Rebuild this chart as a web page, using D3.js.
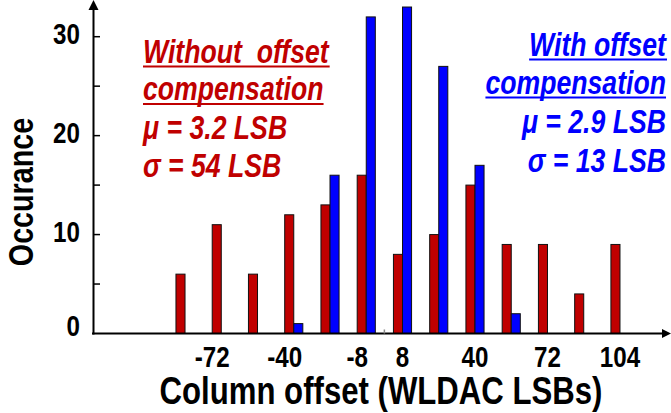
<!DOCTYPE html>
<html>
<head>
<meta charset="utf-8">
<script src="https://cdn.jsdelivr.net/npm/d3@7"></script>
<style>
  html, body { margin: 0; padding: 0; background: #fff; }
  svg { display: block; }
  text { font-family: "Liberation Sans", Arial, sans-serif; font-weight: bold; }
</style>
</head>
<body>
<svg id="chart" width="671" height="413"></svg>
<script>
// ---- data ----
const bins = [-88, -72, -56, -40, -24, -8, 8, 24, 40, 56, 72, 88, 104];
const withoutComp = [6, 11, 6, 12, 13, 16, 8, 10, 15, 9, 9, 4, 9];
const withComp = [0, 0, 0, 1, 16, 32, 33, 27, 17, 2, 0, 0, 0];
const seriesNames = ["without", "with"];
const xTickLabels = [-72, -40, -8, 8, 40, 72, 104];
const yTickLabels = [0, 10, 20, 30];
const yMinorTicks = [5, 10, 15, 20, 25, 30];
const xTitle = "Column offset (WLDAC LSBs)";
const yTitle = "Occurance";
const redText = ["Without  offset", "compensation", "μ = 3.2 LSB", "σ = 54 LSB"];
const blueText = ["With offset", "compensation", "μ = 2.9 LSB", "σ = 13 LSB"];

const RED = "#C00000", BLUE = "#0000FF";
const NARROW = 0.82;
const svg = d3.select("#chart");

const x = d3.scaleBand().domain(bins).range([166.9, 638.1]).padding(0);
const x1 = d3.scaleBand().domain(seriesNames).range([0, x.bandwidth()]).paddingInner(0).paddingOuter(1);
const y = d3.scaleLinear().domain([0, 30]).range([333.5, 36.7]);

const rows = bins.map((b, i) => ({ bin: b, without: withoutComp[i], with: withComp[i] }));

// narrow text helper (condensed bold look)
function ntext(parent, tx, ty, str, size, anchor, extra) {
  const gg = parent.append("g").attr("transform", `translate(${tx},${ty})${extra || ""} scale(${NARROW},1)`);
  const t = gg.append("text").attr("x", 0).attr("y", 0).attr("text-anchor", anchor)
    .attr("font-size", size).style("white-space", "pre").text(str);
  return { g: gg, t: t };
}

// bars
const g = svg.append("g");
rows.forEach(r => {
  seriesNames.forEach(s => {
    if (r[s] <= 0) return;
    g.append("rect")
      .attr("x", x(r.bin) + x1(s))
      .attr("y", y(r[s]))
      .attr("width", x1.bandwidth())
      .attr("height", y(0) - y(r[s]))
      .attr("fill", s === "without" ? RED : BLUE)
      .attr("stroke", "#111")
      .attr("stroke-width", 1);
  });
});

// y axis line and minor ticks
svg.append("line").attr("x1", 93.5).attr("x2", 93.5).attr("y1", y(0) + 1).attr("y2", 8)
  .attr("stroke", "#000").attr("stroke-width", 2);
svg.append("path").attr("d", "M93.5,0 L88.5,10 L98.5,10 Z").attr("fill", "#000");
svg.selectAll(".ytick").data(yMinorTicks).enter().append("line")
  .attr("x1", 93.5).attr("x2", 100).attr("y1", d => y(d)).attr("y2", d => y(d))
  .attr("stroke", "#000").attr("stroke-width", 1.5);

// x axis line
svg.append("line").attr("x1", 92).attr("x2", 664).attr("y1", y(0)).attr("y2", y(0))
  .attr("stroke", "#000").attr("stroke-width", 2);
svg.append("path").attr("d", `M671,${y(0)} L662,${y(0) - 4.5} L662,${y(0) + 4.5} Z`).attr("fill", "#000");
// small zero tick between bins -8 and 8
const zeroX = (x(-8) + x1("with") + x1.bandwidth() + x(8) + x1("without")) / 2;
svg.append("line").attr("x1", zeroX).attr("x2", zeroX).attr("y1", y(0)).attr("y2", y(0) - 4)
  .attr("stroke", "#888").attr("stroke-width", 1.5);

// y tick labels
yTickLabels.forEach(d => {
  ntext(svg, 80, y(d) + (d === 0 ? -8 : -3) + 10.5, String(d), 29.5, "end").t.attr("fill", "#000");
});

// x tick labels
xTickLabels.forEach(d => {
  ntext(svg, x(d) + x.bandwidth() / 2 + (d < 0 ? -9 : 0), 366.5, String(d), 29.5, "middle").t.attr("fill", "#000");
});

// axis titles
ntext(svg, 381, 404, xTitle, 38, "middle").t.attr("fill", "#000");
ntext(svg, 33, 192, yTitle, 35, "middle", " rotate(-90)").t.attr("fill", "#000");

// annotations
function block(lines, color, xPos, anchor, baselines) {
  lines.forEach((t, i) => {
    const o = ntext(svg, xPos, baselines[i], t, 32.5, anchor);
    o.t.attr("fill", color).attr("font-style", "italic");
    if (i < 2) {
      const bb = o.t.node().getBBox();
      o.g.append("line").attr("x1", bb.x).attr("x2", bb.x + bb.width)
        .attr("y1", 4).attr("y2", 4)
        .attr("stroke", color).attr("stroke-width", 2);
    }
  });
}
block(redText, RED, 143, "start", [62.5, 100, 139, 177]);
block(blueText, BLUE, 666, "end", [55.5, 93.5, 133, 172]);
</script>
</body>
</html>
